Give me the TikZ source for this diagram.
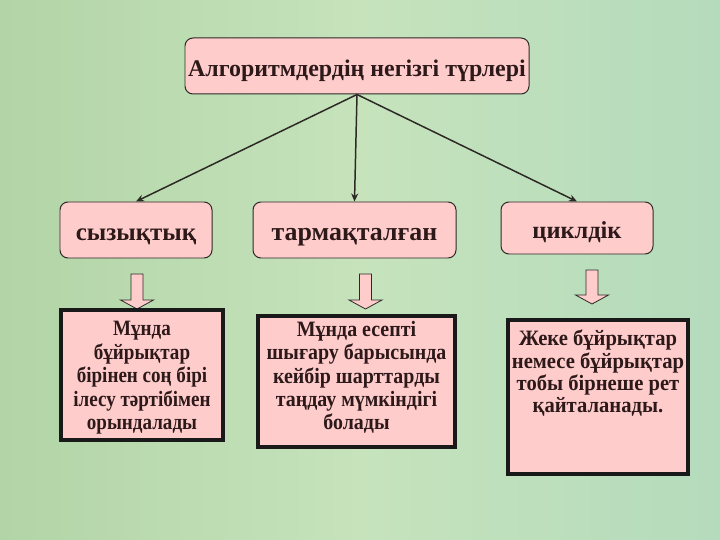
\documentclass[tikz,border=0pt]{standalone}
\usepackage{fontspec}
\setmainfont{Liberation Serif}
\newfontfamily\fontA[FakeStretch=0.87]{Liberation Serif}
\newfontfamily\fontB[FakeStretch=0.91]{Liberation Serif}
\newfontfamily\fontC[FakeStretch=0.94]{Liberation Serif}
\usetikzlibrary{arrows.meta}
\definecolor{bgA}{RGB}{178,212,166}
\definecolor{bgB}{RGB}{198,227,188}
\definecolor{bgC}{RGB}{180,219,188}
\definecolor{boxpink}{RGB}{255,204,204}
\definecolor{ink}{RGB}{45,25,25}
\definecolor{edge}{RGB}{45,42,38}
\tikzset{
  txt/.style={text=ink, align=center},
  rbox/.style={txt, draw=edge, line width=1pt, fill=boxpink, rounded corners=8bp, inner sep=0pt,
     text height=21bp, text depth=0pt},
  dbox/.style={txt, draw=black!90, line width=3.5pt, fill=boxpink, inner sep=0pt},
  conn/.style={draw=edge, line width=1.5pt, -{Stealth[length=8bp,width=7bp]}},
  barrow/.style={draw=edge, line width=0.8pt, fill=boxpink}
}
% block arrow: centre x, top y, head-start y, tip y
\newcommand\blockarrow[4]{%
  \draw[barrow] (#1-6,#2) -- (#1+6,#2) -- (#1+6,#3) -- (#1+16.5,#3) -- (#1,#4)
    -- (#1-16.5,#3) -- (#1-6,#3) -- cycle;}
\begin{document}
\begin{tikzpicture}[x=1bp,y=-1bp]
\useasboundingbox (0,0) rectangle (720,540);
\shade[left color=bgA, right color=bgC, middle color=bgB] (0,0) rectangle (720,540);

\node[rbox, font=\bfseries\fontsize{24}{26}\selectfont, minimum width=344bp, minimum height=56bp] (top) at (357,66) {Алгоритмдердің негізгі түрлері};

\node[rbox, font=\bfseries\fontsize{25}{27}\selectfont, minimum width=152bp, minimum height=56bp] (b1) at (136,230) {сызықтық};
\node[rbox, font=\bfseries\fontsize{26}{28}\selectfont, minimum width=203bp, minimum height=56bp] (b2) at (354.5,230) {тармақталған};
\node[rbox, font=\bfseries\fontsize{24.5}{27}\selectfont, minimum width=152bp, minimum height=52bp] (b3) at (577,228) {циклдік};

\draw[conn] (top.south) -- (b1.north);
\draw[conn] (top.south) -- (b2.north);
\draw[conn] (top.south) -- (b3.north);

\blockarrow{137}{274}{300}{309}
\blockarrow{365.5}{274}{300}{309}
\blockarrow{592}{270}{295}{304}

\node[dbox, font=\fontA\bfseries\fontsize{22}{23.6}\selectfont, minimum width=162bp, minimum height=130bp] (d1) at (142,375)
  {\raisebox{-8bp}[0pt][0pt]{\parbox{160bp}{\centering Мұнда\\бұйрықтар\\бірінен соң бірі\\ілесу тәртібімен\\орындалады}}};
\node[dbox, font=\fontB\bfseries\fontsize{22}{23.4}\selectfont, minimum width=197bp, minimum height=131bp] (d2) at (356.5,381.5)
  {\raisebox{-1bp}[0pt][0pt]{\parbox{195bp}{\centering Мұнда есепті\\шығару барысында\\кейбір шарттарды\\таңдау мүмкіндігі\\болады}}};
\node[dbox, font=\fontC\bfseries\fontsize{22}{22.4}\selectfont, minimum width=180bp, minimum height=154bp] (d3) at (598,397)
  {\parbox[c][150bp][t]{176bp}{\centering\vspace{8bp}Жеке бұйрықтар\\немесе бұйрықтар\\тобы бірнеше рет\\қайталанады.}};
\end{tikzpicture}
\end{document}
